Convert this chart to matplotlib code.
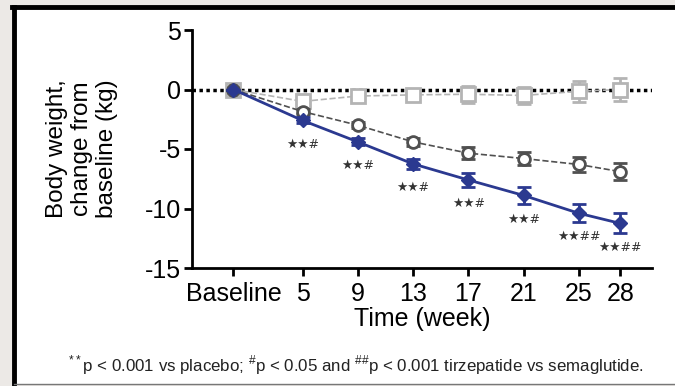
import matplotlib
matplotlib.use('Agg')
import matplotlib.pyplot as plt
from matplotlib.patches import Rectangle
from matplotlib.lines import Line2D

plt.rcParams['font.family'] = ['Liberation Sans', 'DejaVu Sans']
plt.rcParams['mathtext.fontset'] = 'custom'
plt.rcParams['mathtext.rm'] = 'Liberation Sans'

# Data.
weeks = [0, 5, 9, 13, 17, 21, 25, 28]
tickLabels = ['Baseline', '5', '9', '13', '17', '21', '25', '28']

tirzMean = [0, -2.6, -4.4, -6.25, -7.6, -8.9, -10.4, -11.25]
tirzErr = [0, 0.25, 0.3, 0.45, 0.6, 0.7, 0.75, 0.85]

semaMean = [0, -1.85, -3.0, -4.4, -5.35, -5.8, -6.3, -6.9]
semaErr = [0, 0.2, 0.25, 0.35, 0.5, 0.55, 0.65, 0.7]

placMean = [0, -1.0, -0.55, -0.45, -0.4, -0.5, -0.15, 0.0]
placErr = [0, 0.4, 0.35, 0.45, 0.7, 0.75, 0.9, 1.0]

sigLabels = ['', '★★#', '★★#', '★★#', '★★#', '★★#', '★★##', '★★##']

blue = '#2b3990'
darkGray = '#505050'
lightGray = '#b4b4b4'

fig = plt.figure(figsize=(6.75, 3.86), dpi=100)
fig.patch.set_facecolor('#ece9e6')

# White panel with black frame on the left and top.
fig.patches.append(Rectangle((14/675, 2/386), 1.0, 377/386, transform=fig.transFigure,
                             facecolor='white', edgecolor='none', zorder=-10))
fig.lines.append(Line2D([14/675, 14/675], [2/386, 379/386], transform=fig.transFigure,
                        color='black', lw=3.5))
fig.lines.append(Line2D([12/675, 1.0], [379/386, 379/386], transform=fig.transFigure,
                        color='black', lw=3.5))
fig.lines.append(Line2D([14/675, 1.0], [2/386, 2/386], transform=fig.transFigure,
                        color='#777777', lw=1))

ax = fig.add_axes([192/675, 1 - 268/386, 460/675, 238/386])
ax.set_facecolor('none')

ax.axhline(0, color='black', lw=2.5, ls=(0, (1, 1)), zorder=1)

ax.errorbar(weeks, placMean, yerr=placErr, color=lightGray, lw=1.2, ls='--',
            marker='s', ms=9.5, mfc='white', mec=lightGray, mew=2,
            elinewidth=2, capsize=5, capthick=2, zorder=2)
ax.errorbar(weeks, semaMean, yerr=semaErr, color=darkGray, lw=1.2, ls='--',
            marker='o', ms=8.5, mfc='white', mec=darkGray, mew=2,
            elinewidth=2, capsize=5, capthick=2, zorder=3)
ax.errorbar(weeks, tirzMean, yerr=tirzErr, color=blue, lw=2, ls='-',
            marker='D', ms=7, mfc=blue, mec=blue,
            elinewidth=2, capsize=5, capthick=2, zorder=4)

for w, m, lab in zip(weeks, tirzMean, sigLabels):
    if lab:
        ax.annotate(lab, (w, m), xytext=(0, -17), textcoords='offset points',
                    ha='center', va='center', fontsize=9, color='#333333',
                    family=['DejaVu Sans'])

ax.set_xlim(-3.0, 30.3)
ax.set_ylim(-15, 5)
ax.set_xticks(weeks)
ax.set_xticklabels(tickLabels)
ax.set_yticks([5, 0, -5, -10, -15])
ax.set_yticklabels(['5', '0', '-5', '-10', '-15'])

for s in ['top', 'right']:
    ax.spines[s].set_visible(False)
for s in ['left', 'bottom']:
    ax.spines[s].set_linewidth(2)
ax.tick_params(axis='y', width=2, length=6, labelsize=18, pad=2, colors='black')
ax.tick_params(axis='x', width=2, length=6, labelsize=18, pad=4, colors='black')

ax.set_xlabel('Time (week)', fontsize=18, labelpad=1)
ax.set_ylabel('Body weight,\nchange from\nbaseline (kg)', fontsize=17.5, linespacing=1.2)
ax.yaxis.set_label_coords(-0.16, 0.5)

fig.text(356/675, 1 - 365/386,
         r'$^{**}$p < 0.001 vs placebo; $^{\#}$p < 0.05 and $^{\#\#}$p < 0.001 tirzepatide vs semaglutide.',
         ha='center', va='center', fontsize=12.2, color='#222222')

fig.savefig('out.png', dpi=100, facecolor=fig.get_facecolor())
